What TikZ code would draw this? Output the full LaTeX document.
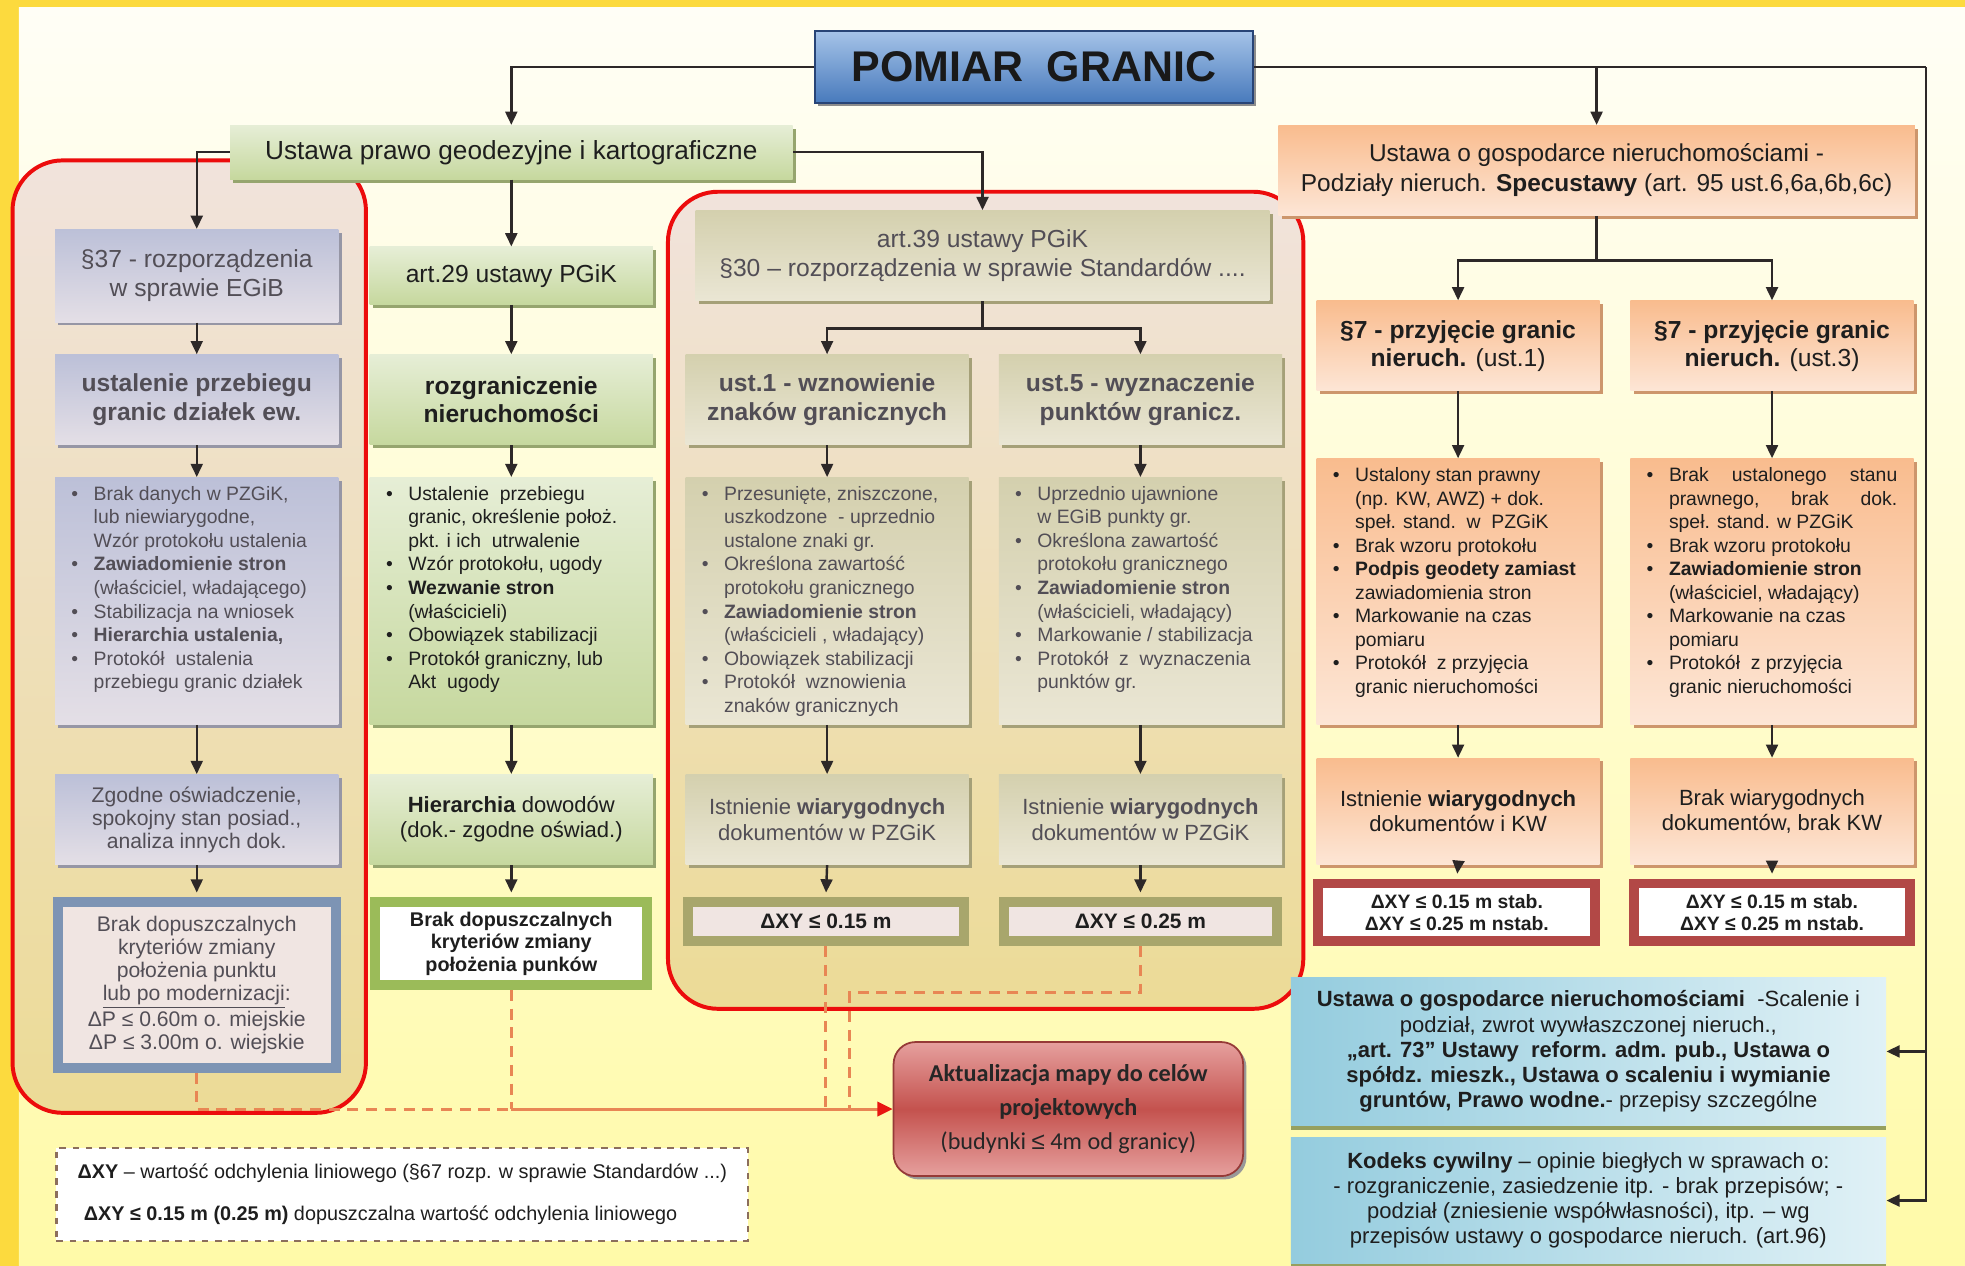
\documentclass[tikz,border=0pt]{standalone}
\usepackage{fontspec}
\setmainfont{Liberation Sans}
\newfontfamily\calibri{Carlito}
\newfontfamily\libsans{Liberation Sans}
\usetikzlibrary{arrows.meta,shadows}
\definecolor{Gold}{RGB}{252,218,62}
\definecolor{PaperTop}{RGB}{255,254,246}
\definecolor{PaperBot}{RGB}{255,250,168}
\definecolor{Ink}{RGB}{30,30,30}
\definecolor{GreyInk}{RGB}{82,78,86}
\definecolor{Wire}{RGB}{45,40,40}
\definecolor{LavTop}{RGB}{188,192,216}
\definecolor{LavBot}{RGB}{228,223,230}
\definecolor{LavShade}{RGB}{150,150,165}
\definecolor{GrnTop}{RGB}{230,238,214}
\definecolor{GrnBot}{RGB}{198,216,158}
\definecolor{GrnShade}{RGB}{150,165,110}
\definecolor{OlvTop}{RGB}{212,208,174}
\definecolor{OlvBot}{RGB}{234,230,212}
\definecolor{OlvShade}{RGB}{165,160,120}
\definecolor{OrgTop}{RGB}{249,188,142}
\definecolor{OrgBot}{RGB}{253,230,214}
\definecolor{OrgShade}{RGB}{205,150,108}
\definecolor{BluL}{RGB}{148,204,222}
\definecolor{BluR}{RGB}{224,241,246}
\definecolor{BluShade}{RGB}{150,160,95}
\definecolor{TitleTop}{RGB}{165,195,232}
\definecolor{TitleBot}{RGB}{72,122,188}
\definecolor{TitleEdge}{RGB}{40,68,118}
\definecolor{AktEdge}{RGB}{150,58,55}
\definecolor{AktMid}{RGB}{196,82,78}
\definecolor{AktOut}{RGB}{230,160,158}
\definecolor{GroupRed}{RGB}{236,12,12}
\definecolor{GroupTop}{RGB}{241,227,220}
\definecolor{GroupBot}{RGB}{236,219,150}
\definecolor{FrameBlue}{RGB}{125,148,180}
\definecolor{FrameGreen}{RGB}{155,187,89}
\definecolor{FrameOlive}{RGB}{168,166,108}
\definecolor{FrameRed}{RGB}{178,72,70}
\definecolor{PaleRose}{RGB}{240,229,226}
\definecolor{DashOrange}{RGB}{232,134,84}
\definecolor{HotRed}{RGB}{232,22,18}
\definecolor{LegendEdge}{RGB}{140,110,92}
\newcommand{\bitem}[1]{\par\noindent\hangindent=1.15em\hangafter=1\makebox[1.15em][l]{\textbullet}#1}
\newcommand{\ptlist}[3]{\begin{minipage}[t][#1][t]{#2}\raggedright\fontsize{8.8}{10.7}\selectfont #3\end{minipage}}
\tikzset{
  >={Triangle[length=6pt,width=5.4pt]},
  wire/.style={draw=Wire,line width=1.1pt},
  arr/.style={wire,->},
  dashwire/.style={draw=DashOrange,line width=1.4pt,dash pattern=on 5pt off 3.5pt},
  hotwire/.style={draw=DashOrange,line width=1.4pt,-{Triangle[length=7pt,width=6.5pt,color=HotRed]}},
  group/.style={draw=GroupRed,line width=1.8pt,rounded corners=0.8cm,top color=GroupTop,bottom color=GroupBot},
  box/.style={align=center,inner sep=2pt,text=Ink,font=\fontsize{11.2}{12.8}\selectfont},
  hdr/.style={box,font=\fontsize{11.2}{12.8}\selectfont\bfseries},
  low/.style={box,font=\fontsize{10}{11.4}\selectfont},
  cell/.style={minimum width=4.52cm,minimum height=1.44cm},
  pts/.style={inner xsep=0.26cm,inner ysep=0.14cm},
  lavfill/.style={top color=LavTop,bottom color=LavBot,text=GreyInk,drop shadow={shadow xshift=1.5pt,shadow yshift=-1.5pt,fill=LavShade,opacity=1}},
  grnfill/.style={top color=GrnTop,bottom color=GrnBot,text=Ink,drop shadow={shadow xshift=1.5pt,shadow yshift=-1.5pt,fill=GrnShade,opacity=1}},
  olvfill/.style={top color=OlvTop,bottom color=OlvBot,text=GreyInk,drop shadow={shadow xshift=1.5pt,shadow yshift=-1.5pt,fill=OlvShade,opacity=1}},
  orgfill/.style={top color=OrgTop,bottom color=OrgBot,text=Ink,drop shadow={shadow xshift=1.5pt,shadow yshift=-1.5pt,fill=OrgShade,opacity=1}},
  blufill/.style={left color=BluL,right color=BluR,text=Ink,drop shadow={shadow xshift=0pt,shadow yshift=-2pt,fill=BluShade,opacity=1}},
  dxy/.style={box,line width=4.5pt,font=\fontsize{9.5}{11}\selectfont\bfseries},
  titlebox/.style={draw=TitleEdge,line width=1pt,top color=TitleTop,bottom color=TitleBot,minimum width=7cm,minimum height=1.14cm,font=\fontsize{19.5}{22}\selectfont\bfseries,text=black!90,drop shadow={shadow xshift=1.5pt,shadow yshift=-1.5pt,fill=black!45,opacity=1}},
  aktbox/.style={draw=AktEdge,line width=0.8pt,rounded corners=0.35cm,top color=AktOut,bottom color=AktOut,middle color=AktMid,minimum width=5.58cm,minimum height=2.14cm,align=center,font=\calibri\fontsize{11}{15.4}\selectfont,text=black!85,drop shadow={shadow xshift=1.5pt,shadow yshift=-1.5pt,fill=black!40,opacity=1}},
  legend/.style={draw=LegendEdge,dashed,line width=1pt,fill=white,minimum width=11.04cm,minimum height=1.48cm,align=left,font=\fontsize{9}{11}\selectfont,text=Ink}
}
\begin{document}
\begin{tikzpicture}[x=0.02cm,y=-0.02cm]
  \useasboundingbox (0,0) rectangle (1568,1010);
  \fill[Gold] (0,0) rectangle (1568,1010);
  \shade[top color=PaperTop,bottom color=PaperBot] (15,6) rectangle (1568,1010);
  % red frames
  \draw[group] (10,128) rectangle (292,888);
  \draw[group] (533,153) rectangle (1040,805);

  \node[titlebox] (title) at (825,53.5) {POMIAR\ \ GRANIC};
  \node[box,grnfill,minimum width=8.98cm,minimum height=0.86cm,font=\fontsize{11.9}{13}\selectfont] (pgik) at (408,121.5) {Ustawa prawo geodezyjne i kartograficzne};
  \node[box,orgfill,minimum width=10.16cm,minimum height=1.44cm,font=\fontsize{11.1}{13.7}\selectfont] (gn) at (1274,136) {Ustawa o gospodarce nieruchomościami -\\Podziały nieruch. \textbf{Specustawy} (art. 95 ust.6,6a,6b,6c)};

  % column EGiB
  \node[box,lavfill,cell,minimum height=1.48cm] (egib) at (157,220) {§37 - rozporządzenia\\w sprawie EGiB};
  \node[hdr,lavfill,cell] (ustal) at (157,319) {ustalenie przebiegu\\granic działek ew.};
  \node[pts,lavfill] (ustpts) at (157,479.5) {\ptlist{3.66cm}{4cm}{%
    \bitem{Brak danych w PZGiK,\newline lub niewiarygodne,\newline Wzór protokołu ustalenia}
    \bitem{\textbf{Zawiadomienie stron}\newline (właściciel, władającego)}
    \bitem{Stabilizacja na wniosek}
    \bitem{\textbf{Hierarchia ustalenia,}}
    \bitem{Protokół\ \ ustalenia\newline przebiegu granic działek}}};
  \node[box,lavfill,cell,font=\fontsize{9.6}{10.4}\selectfont] (zgod) at (157,654) {Zgodne oświadczenie,\\spokojny stan posiad.,\\analiza innych dok.};
  \node[box,draw=FrameBlue,fill=PaleRose,line width=4.5pt,minimum width=4.44cm,minimum height=2.64cm,text=GreyInk,font=\fontsize{9.6}{10.4}\selectfont] (brakp) at (157,786) {Brak dopuszczalnych\\kryteriów zmiany\\położenia punktu\\\underline{lub po modernizacji}:\\ΔP ≤ 0.60m o. miejskie\\ΔP ≤ 3.00m o. wiejskie};

  % column art.29
  \node[box,grnfill,cell,minimum height=0.92cm] (art29) at (408,220) {art.29 ustawy PGiK};
  \node[hdr,grnfill,cell] (rozg) at (408,319) {rozgraniczenie\\nieruchomości};
  \node[pts,grnfill] (rozpts) at (408,479.5) {\ptlist{3.66cm}{4cm}{%
    \bitem{Ustalenie\ \ przebiegu\newline granic, określenie położ.\newline pkt. i ich\ \ utrwalenie}
    \bitem{Wzór protokołu, ugody}
    \bitem{\textbf{Wezwanie stron}\newline (właścicieli)}
    \bitem{Obowiązek stabilizacji}
    \bitem{Protokół graniczny, lub\newline Akt\ \ ugody}}};
  \node[low,grnfill,cell] (hier) at (408,654) {\textbf{Hierarchia} dowodów\\(dok.- zgodne oświad.)};
  \node[box,draw=FrameGreen,fill=white,line width=4.5pt,minimum width=4.34cm,minimum height=1.32cm,font=\fontsize{9}{10.3}\selectfont\bfseries] (brakr) at (408,753) {Brak dopuszczalnych\\kryteriów zmiany\\położenia punków};

  % column art.39
  \node[box,olvfill,minimum width=9.16cm,minimum height=1.44cm] (art39) at (784,204) {art.39 ustawy PGiK\\§30 – rozporządzenia w sprawie Standardów ....};
  \node[hdr,olvfill,cell] (wzn) at (660,319) {ust.1 - wznowienie\\znaków granicznych};
  \node[hdr,olvfill,cell] (wyz) at (910,319) {ust.5 - wyznaczenie\\punktów granicz.};
  \node[pts,olvfill] (wznpts) at (660,479.5) {\ptlist{3.66cm}{4cm}{%
    \bitem{Przesunięte, zniszczone,\newline uszkodzone\ \ - uprzednio\newline ustalone znaki gr.}
    \bitem{Określona zawartość\newline protokołu granicznego}
    \bitem{\textbf{Zawiadomienie stron}\newline (właścicieli , władający)}
    \bitem{Obowiązek stabilizacji}
    \bitem{Protokół\ \ wznowienia\newline\ znaków granicznych}}};
  \node[pts,olvfill] (wyzpts) at (910,479.5) {\ptlist{3.66cm}{4cm}{%
    \bitem{Uprzednio ujawnione\newline w EGiB punkty gr.}
    \bitem{Określona zawartość\newline protokołu granicznego}
    \bitem{\textbf{Zawiadomienie stron}\newline (właścicieli, władający)}
    \bitem{Markowanie / stabilizacja}
    \bitem{Protokół\ \ z\ \ wyznaczenia\newline punktów gr.}}};
  \node[low,olvfill,cell] (wznist) at (660,654) {Istnienie \textbf{wiarygodnych}\\dokumentów w PZGiK};
  \node[low,olvfill,cell] (wyzist) at (910,654) {Istnienie \textbf{wiarygodnych}\\dokumentów w PZGiK};
  \node[dxy,draw=FrameOlive,fill=PaleRose,minimum width=4.4cm,minimum height=0.62cm] (wzndxy) at (659,735.5) {ΔXY ≤ 0.15 m};
  \node[dxy,draw=FrameOlive,fill=PaleRose,minimum width=4.36cm,minimum height=0.62cm] (wyzdxy) at (910,735.5) {ΔXY ≤ 0.25 m};

  % columns §7
  \node[hdr,orgfill,cell] (prz1) at (1163.5,276) {§7 - przyjęcie granic\\nieruch. {\mdseries (ust.1)}};
  \node[hdr,orgfill,cell] (prz3) at (1414,276) {§7 - przyjęcie granic\\nieruch. {\mdseries (ust.3)}};
  \node[pts,orgfill] (prz1pts) at (1163.5,472) {\ptlist{3.96cm}{4cm}{%
    \bitem{Ustalony stan prawny\newline (np. KW, AWZ) + dok.\newline speł. stand.\ \ w\ \ PZGiK}
    \bitem{Brak wzoru protokołu}
    \bitem{\textbf{Podpis geodety zamiast}\newline zawiadomienia stron}
    \bitem{Markowanie na czas\newline pomiaru}
    \bitem{Protokół\ \ z przyjęcia\newline granic nieruchomości}}};
  \node[pts,orgfill] (prz3pts) at (1414,472) {\ptlist{3.96cm}{4cm}{%
    \bitem{Brak\hfill ustalonego\hfill stanu\newline prawnego,\hfill brak\hfill dok.\newline speł. stand. w PZGiK}
    \bitem{Brak wzoru protokołu}
    \bitem{\textbf{Zawiadomienie stron}\newline (właściciel, władający)}
    \bitem{Markowanie na czas\newline pomiaru}
    \bitem{Protokół\ \ z przyjęcia\newline granic nieruchomości}}};
  \node[low,orgfill,cell,minimum height=1.7cm] (prz1ist) at (1163.5,647.5) {Istnienie \textbf{wiarygodnych}\\dokumentów i KW};
  \node[low,orgfill,cell,minimum height=1.7cm] (prz3ist) at (1414,647.5) {Brak wiarygodnych\\dokumentów, brak KW};
  \node[dxy,draw=FrameRed,fill=white,minimum width=4.42cm,minimum height=0.92cm,font=\fontsize{8.8}{10.2}\selectfont\bfseries] (prz1dxy) at (1162.5,728) {ΔXY ≤ 0.15 m stab.\\ΔXY ≤ 0.25 m nstab.};
  \node[dxy,draw=FrameRed,fill=white,minimum width=4.4cm,minimum height=0.92cm,font=\fontsize{8.8}{10.2}\selectfont\bfseries] (prz3dxy) at (1414,728) {ΔXY ≤ 0.15 m stab.\\ΔXY ≤ 0.25 m nstab.};

  % other acts
  \node[box,blufill,minimum width=9.5cm,minimum height=2.36cm,font=\fontsize{10}{11.4}\selectfont] (scal) at (1267.5,839) {\textbf{Ustawa o gospodarce nieruchomościami}\ \ -Scalenie i\\podział, zwrot wywłaszczonej nieruch.,\\\textbf{„art. 73” Ustawy\ \ reform. adm. pub., Ustawa o}\\\textbf{spółdz. mieszk., Ustawa o scaleniu i wymianie}\\\textbf{gruntów, Prawo wodne.}- przepisy szczególne};
  \node[box,blufill,minimum width=9.5cm,minimum height=2cm,font=\fontsize{10}{11.4}\selectfont] (kc) at (1267.5,958) {\textbf{Kodeks cywilny} – opinie biegłych w sprawach o:\\- rozgraniczenie, zasiedzenie itp. - brak przepisów; -\\podział (zniesienie współwłasności), itp. – wg\\przepisów ustawy o gospodarce nieruch. (art.96)};

  \node[aktbox] (akt) at (852.5,885) {\textbf{Aktualizacja mapy do celów}\\\textbf{projektowych}\\(budynki {\libsans ≤} 4m od granicy)};
  \node[legend] (key) at (321,953) {\textbf{ΔXY} – wartość odchylenia liniowego (§67 rozp. w sprawie Standardów ...)\\[8pt]\hspace*{0.1cm}\textbf{ΔXY ≤ 0.15 m (0.25 m)} dopuszczalna wartość odchylenia liniowego};

  % connectors
  \coordinate (rc) at (1537,53.5);
  \coordinate (mj) at (784,262);
  \coordinate (rj) at (1274,208);
    \draw[arr] (title.west) -| (pgik.north);
    \draw[wire] (title.east) -- (rc);
    \draw[arr] (rc) |- (scal.east);
    \draw[arr] (rc) |- (kc.east);
    \draw[arr] (title.east -| gn.north) -- (gn.north);
    \draw[arr] (pgik.west) -| (egib.north);
    \draw[arr] (pgik.south) -- (art29.north);
    \draw[arr] (pgik.east) -| (art39.north);
    \draw[arr] (egib) -- (ustal);
    \draw[arr] (ustal) -- (ustpts);
    \draw[arr] (ustpts) -- (zgod);
    \draw[arr,shorten >=2.2pt] (zgod) -- (brakp);
    \draw[arr] (art29) -- (rozg);
    \draw[arr] (rozg) -- (rozpts);
    \draw[arr] (rozpts) -- (hier);
    \draw[arr,shorten >=2.2pt] (hier) -- (brakr);
    \draw[wire] (art39.south) -- (mj);
    \draw[arr] (mj) -| (wzn.north);
    \draw[arr] (mj) -| (wyz.north);
    \draw[arr] (wzn) -- (wznpts);
    \draw[arr] (wyz) -- (wyzpts);
    \draw[arr] (wznpts) -- (wznist);
    \draw[arr] (wyzpts) -- (wyzist);
    \draw[arr,shorten >=2.2pt] (wznist.south) -- (wzndxy.north);
    \draw[arr,shorten >=2.2pt] (wyzist) -- (wyzdxy);
    \draw[wire] (gn.south) -- (rj);
    \draw[arr] (rj) -| (prz1.north);
    \draw[arr] (rj) -| (prz3.north);
    \draw[arr] (prz1) -- (prz1pts);
    \draw[arr] (prz3) -- (prz3pts);
    \draw[arr] (prz1pts) -- (prz1ist);
    \draw[arr] (prz3pts) -- (prz3ist);
    \draw[arr,shorten >=2.2pt] (prz1ist.south) -- (prz1dxy.north);
    \draw[arr,shorten >=2.2pt] (prz3ist) -- (prz3dxy);
  % dashed paths to the map update
  \coordinate (dj1) at (157,885);
  \coordinate (dj2) at (408,885);
  \coordinate (dj3) at (910,792);
  \coordinate (dj4) at (678,792);
    \draw[dashwire] (brakp.south) -- (dj1) -- (dj2);
    \draw[dashwire] (brakr.south) -- (dj2);
    \draw[dashwire] (wzndxy.south) -- (wzndxy.south |- akt.west);
    \draw[dashwire] (wyzdxy.south) -- (dj3) -- (dj4) -- (dj4 |- akt.west);
    \draw[hotwire] (dj2) -- (akt.west);
\end{tikzpicture}
\end{document}
